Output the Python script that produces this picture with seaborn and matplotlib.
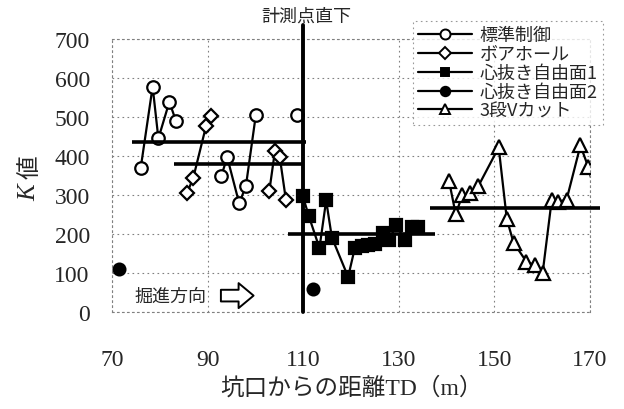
import pandas as pd
import matplotlib
matplotlib.use("Agg")
import matplotlib.pyplot as plt
import seaborn as sns
from matplotlib.lines import Line2D
from matplotlib import transforms

# データ
std_td  = [76.0, 78.5, 79.7, 82.0, 83.4, 92.9, 94.1, 96.6, 98.0, 100.1, 108.7]
std_k   = [369, 578, 445, 539, 489, 350, 397, 279, 322, 506, 505]
std_seg = [0, 0, 0, 0, 0, 1, 1, 1, 1, 1, 2]

bore_td  = [85.7, 87.0, 89.7, 90.8, 102.9, 104.1, 105.1, 106.4]
bore_k   = [305, 344, 478, 502, 309, 414, 397, 286]
bore_seg = [0, 0, 0, 0, 1, 1, 1, 1]

free1_td = [109.9, 111.2, 113.4, 114.8, 116.0, 119.4, 120.8, 122.2, 123.6, 125.0,
            126.6, 128.0, 129.5, 131.2, 132.7, 134.1]
free1_k  = [298, 245, 164, 286, 191, 90, 164, 168, 172, 174,
            203, 185, 223, 185, 219, 219]

free2_td = [71.5, 112.1]
free2_k  = [110, 59]

vcut_td = [140.5, 141.9, 143.3, 145.0, 146.6, 150.9, 152.6, 154.0, 156.7, 158.5,
           160.1, 162.0, 163.4, 165.1, 168.0, 169.6, 172.0]
vcut_k  = [337, 251, 299, 305, 322, 422, 238, 178, 129, 120,
           101, 288, 283, 288, 427, 373, 262]

# 平均値（開始TD, 終了TD, K値）
avg_start = [74.1, 83.0, 106.8, 136.5]
avg_end   = [110.5, 109.7, 137.6, 172.0]
avg_k     = [435, 379, 200, 267]

labels = ["標準制御", "ボアホール", "心抜き自由面1", "心抜き自由面2", "3段Vカット"]

frames = [
    pd.DataFrame({"method": labels[0], "td": std_td, "k": std_k, "seg": std_seg}),
    pd.DataFrame({"method": labels[1], "td": bore_td, "k": bore_k, "seg": bore_seg}),
    pd.DataFrame({"method": labels[2], "td": free1_td, "k": free1_k, "seg": 0}),
    pd.DataFrame({"method": labels[3], "td": free2_td, "k": free2_k,
                  "seg": range(len(free2_td))}),
    pd.DataFrame({"method": labels[4], "td": vcut_td, "k": vcut_k, "seg": 0}),
]
df = pd.concat(frames, ignore_index=True)

sns.set_theme(style="white")
plt.rcParams["font.family"] = ["Liberation Serif", "Noto Sans CJK JP"]

fig = plt.figure(figsize=(6.24, 4.10), dpi=100)
ax = fig.add_axes([0.1795, 0.2366, 0.766, 0.6658])

styles = {
    labels[0]: dict(marker="o", mfc="white", ms=9),
    labels[1]: dict(marker="D", mfc="white", ms=7.5),
    labels[2]: dict(marker="s", mfc="black", ms=8),
    labels[3]: dict(marker="o", mfc="black", ms=8.5),
    labels[4]: dict(marker="^", mfc="white", ms=9.5),
}

for name in labels:
    st = styles[name]
    sub = df[df["method"] == name]
    sns.lineplot(data=sub, x="td", y="k", units="seg", estimator=None, ax=ax,
                 color="black", lw=1.6, marker=st["marker"], markersize=st["ms"],
                 markerfacecolor=st["mfc"], markeredgecolor="black",
                 markeredgewidth=1.6, legend=False, sort=False)

# 平均線
ax.hlines(avg_k, avg_start, avg_end, colors="black", lw=2.6, clip_on=False, zorder=5)

# 計測点直下
ax.axvline(110, ymin=0, ymax=1.05, color="black", lw=2.8, clip_on=False, zorder=6)
trans = transforms.blended_transform_factory(ax.transData, ax.transAxes)
ax.text(110.6, 1.085, "計測点直下", transform=trans, ha="center", va="center",
        fontsize=13, family=["Noto Sans CJK JP"])

# 掘進方向
ax.text(74.8, 42, "掘進方向", ha="left", va="center", fontsize=13,
        family=["Noto Sans CJK JP"])
ax.annotate("", xy=(100.2, 42), xytext=(92.2, 42),
            arrowprops=dict(arrowstyle="simple,head_width=1.5,head_length=0.9,tail_width=0.7",
                            fc="white", ec="black", lw=1.4))

ax.set_xlim(70, 170)
ax.set_ylim(0, 700)
ax.set_xticks(range(70, 171, 20))
ax.set_yticks(range(0, 701, 100))
ax.tick_params(axis="x", labelsize=17, pad=27, length=0)
ax.tick_params(axis="y", labelsize=17, pad=16, length=0)
ax.grid(True, color="0.5", linestyle=(0, (1.5, 3)), lw=0.8)
for sp in ax.spines.values():
    sp.set_color("0.5")
    sp.set_linestyle((0, (1.5, 3)))
    sp.set_linewidth(0.8)

ax.set_xlabel("坑口からの距離TD（m）", fontsize=17, labelpad=4)
ax.set_ylabel("")

# 縦軸ラベル（Kは斜体）
ax.text(-0.172, 0.44, "K", transform=ax.transAxes, rotation=90, ha="center",
        va="center", fontsize=18, style="italic", family=["Liberation Serif"])
ax.text(-0.172, 0.535, "値", transform=ax.transAxes, rotation=90, ha="center",
        va="center", fontsize=17, family=["Noto Sans CJK JP"])

handles = [Line2D([], [], color="black", lw=1.6, marker=styles[n]["marker"],
                  markersize=styles[n]["ms"] * 0.8, markerfacecolor=styles[n]["mfc"],
                  markeredgecolor="black", markeredgewidth=1.4) for n in labels]
leg = ax.legend(handles, labels, loc="upper right", bbox_to_anchor=(1.046, 1.1),
                frameon=True, fancybox=False, labelspacing=0.05,
                handlelength=3.0, handletextpad=0.4, borderpad=0.3,
                prop={"family": ["Noto Sans CJK JP"], "size": 13})
leg.get_frame().set_edgecolor("0.5")
leg.get_frame().set_linestyle((0, (1.5, 3)))
leg.get_frame().set_linewidth(0.8)
leg.set_zorder(10)

fig.savefig("out.png", dpi=100)
